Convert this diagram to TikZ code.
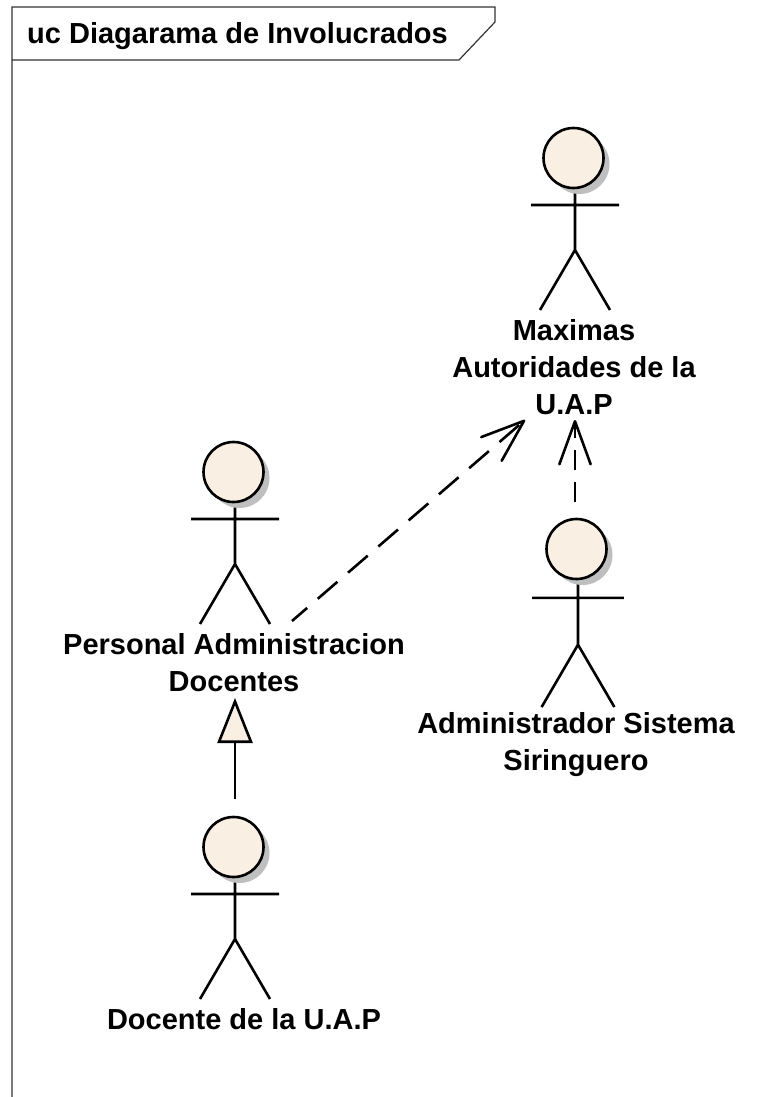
\documentclass[tikz,border=0pt]{standalone}
\usepackage{fontspec}
\setmainfont{Liberation Sans}
\usetikzlibrary{arrows.meta,shadows}
\definecolor{actorfill}{HTML}{F9F0E3}
\begin{document}
\begin{tikzpicture}[
        x=1pt, y=-1pt,
        head/.style={circle, draw, line width=2.6pt, fill=actorfill, minimum size=60pt, inner sep=0pt,
            drop shadow={shadow xshift=6pt, shadow yshift=-6pt, fill=black!25, opacity=1}},
        label/.style={align=center, font=\fontsize{29}{37}\selectfont\bfseries, inner sep=0pt},
        limb/.style={line width=2.6pt},
        depend/.style={line width=2.6pt, dash pattern=on 20pt off 12pt, -{Straight Barb[length=43pt, width=32pt, line width=2.6pt, angle'=40, round]}},
        inherit/.style={line width=2.6pt, -{Triangle[open, length=45pt, width=35pt, line width=2.6pt, fill=actorfill]}},
        pics/actorfig/.style={code={
            \draw[limb, scale=#1] (0,0) -- (0,92) (-44,47) -- (44,47) (0,92) -- (-35,152) (0,92) -- (35,152);
            \node[head] (-head) at (-1.5,0) {};
        }}
    ]
    \useasboundingbox (0,0) rectangle (775,1097);
    % frame
    \draw[line width=1.2pt, black!80] (12,1097) -- (12,7) -- (495,7) -- (495,22) -- (459,60) -- (12,60);
    \node[anchor=west, inner sep=0pt, font=\fontsize{29}{30}\selectfont\bfseries] (title) at (27,36) {uc Diagarama de Involucrados};
    % actors
    \pic (max) at (575,158) {actorfig=1};
    \pic (per) at (235,472) {actorfig=1};
    \pic (adm) at (578,549) {actorfig=1.04};
    \pic (doc) at (235,847) {actorfig=1};
    \node[label] (maxl) at (574,367) {Maximas\\Autoridades de la\\U.A.P};
    \node[label] (perl) at (234,663) {Personal Administracion\\Docentes};
    \node[label] (adml) at (576,745) {Administrador Sistema\\Siringuero};
    \node[label] (docl) at (244,1019) {Docente de la U.A.P};
    % connectors
    \coordinate (depstart) at (292,621);
    \coordinate (deptip) at (525,420);
    \coordinate (admtip) at (575,420);
    \coordinate (admtail) at (575,502);
    \coordinate (gentip) at (235,698);
    \draw[depend, dash pattern=on 26pt off 14pt, dash phase=6pt] (depstart) -- (deptip);
    \draw[depend] (admtail) -- (admtip);
    \draw[inherit, shorten <=17pt] (doc-head.north -| gentip) -- (gentip);
\end{tikzpicture}
\end{document}
